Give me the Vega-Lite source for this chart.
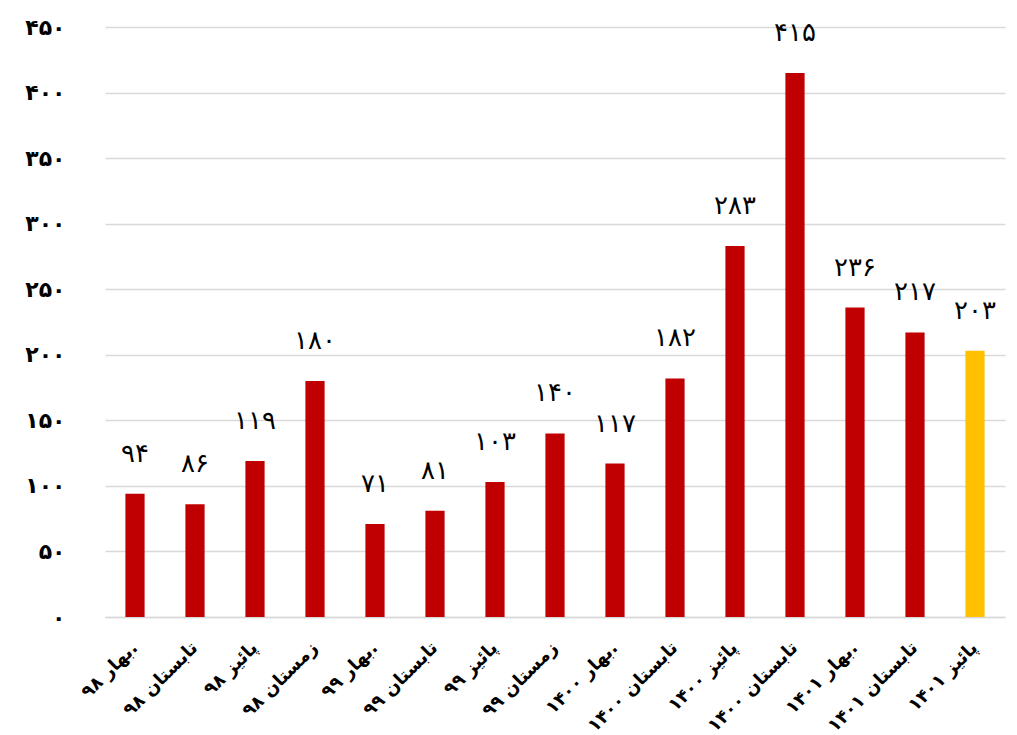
{
  "$schema": "https://vega.github.io/schema/vega-lite/v6.json",
  "width": 900,
  "height": 590,
  "autosize": "none",
  "padding": {"left": 105, "top": 27, "right": 12, "bottom": 118},
  "background": "white",
  "config": {"view": {"stroke": null}, "font": "DejaVu Sans"},
  "data": {
    "values": [
      {"quarter": "بهار ۹۸.", "value": 94, "highlight": "no"},
      {"quarter": "تابستان ۹۸", "value": 86, "highlight": "no"},
      {"quarter": "پائیز ۹۸", "value": 119, "highlight": "no"},
      {"quarter": "زمستان ۹۸", "value": 180, "highlight": "no"},
      {"quarter": "بهار ۹۹.", "value": 71, "highlight": "no"},
      {"quarter": "تابستان ۹۹", "value": 81, "highlight": "no"},
      {"quarter": "پائیز ۹۹", "value": 103, "highlight": "no"},
      {"quarter": "زمستان ۹۹", "value": 140, "highlight": "no"},
      {"quarter": "بهار ۱۴۰۰.", "value": 117, "highlight": "no"},
      {"quarter": "تابستان ۱۴۰۰", "value": 182, "highlight": "no"},
      {"quarter": "پائیز ۱۴۰۰", "value": 283, "highlight": "no"},
      {"quarter": "تابستان ۱۴۰۰\u200b", "value": 415, "highlight": "no"},
      {"quarter": "بهار ۱۴۰۱.", "value": 236, "highlight": "no"},
      {"quarter": "تابستان ۱۴۰۱", "value": 217, "highlight": "no"},
      {"quarter": "پائیز ۱۴۰۱", "value": 203, "highlight": "yes"}
    ]
  },
  "transform": [
    {"calculate": "replace(replace(replace(replace(replace(replace(replace(replace(replace(replace(toString(datum.value), regexp('0','g'), '۰'), regexp('1','g'), '۱'), regexp('2','g'), '۲'), regexp('3','g'), '۳'), regexp('4','g'), '۴'), regexp('5','g'), '۵'), regexp('6','g'), '۶'), regexp('7','g'), '۷'), regexp('8','g'), '۸'), regexp('9','g'), '۹')", "as": "plabel"}
  ],
  "encoding": {
    "x": {
      "field": "quarter",
      "type": "nominal",
      "sort": null,
      "scale": {"paddingInner": 0.68, "paddingOuter": 0.34},
      "axis": {
        "title": null,
        "labelAngle": -45,
        "labelAlign": "right",
        "labelBaseline": "middle",
        "labelFontSize": 18,
        "labelFontWeight": "bold",
        "labelColor": "black",
        "labelPadding": 28,
        "labelOverlap": false,
        "ticks": false,
        "domainColor": "#d9d9d9",
        "domainWidth": 1.5
      }
    },
    "y": {
      "field": "value",
      "type": "quantitative",
      "scale": {"domain": [0, 450], "nice": false},
      "axis": {
        "title": null,
        "values": [0, 50, 100, 150, 200, 250, 300, 350, 400, 450],
        "labelExpr": "replace(replace(replace(replace(replace(replace(datum.label, regexp('0','g'), '۰'), regexp('1','g'), '۱'), regexp('2','g'), '۲'), regexp('3','g'), '۳'), regexp('4','g'), '۴'), regexp('5','g'), '۵')",
        "labelFontSize": 22,
        "labelFontWeight": "bold",
        "labelColor": "black",
        "labelPadding": 40,
        "ticks": false,
        "domain": false,
        "gridColor": "#d9d9d9",
        "gridWidth": 1.5
      }
    }
  },
  "layer": [
    {
      "mark": {"type": "bar"},
      "encoding": {
        "color": {
          "field": "highlight",
          "type": "nominal",
          "scale": {"domain": ["no", "yes"], "range": ["#C00000", "#FFC000"]},
          "legend": null
        }
      }
    },
    {
      "mark": {"type": "text", "dy": -40, "fontSize": 26, "color": "black", "baseline": "middle"},
      "encoding": {"text": {"field": "plabel"}}
    }
  ]
}
